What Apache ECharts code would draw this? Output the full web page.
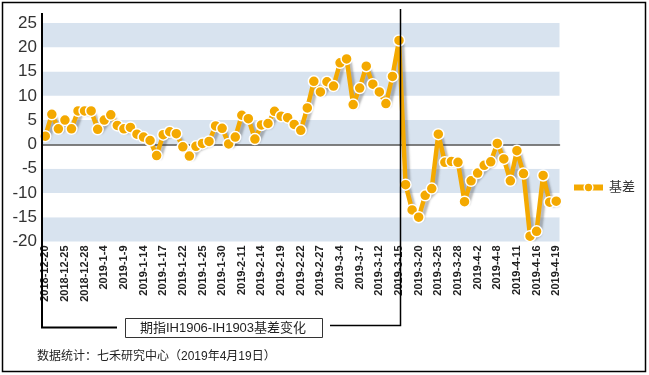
<!DOCTYPE html>
<html>
<head>
<meta charset="utf-8">
<script src="https://cdn.jsdelivr.net/npm/echarts@6/dist/echarts.min.js"></script>
<style>
  html, body { margin: 0; padding: 0; background: #fff; }
  #chart { width: 649px; height: 375px; }
</style>
</head>
<body>
<div id="chart"></div>
<script>
const dates = [
  '2018-12-20','2018-12-21','2018-12-24','2018-12-25','2018-12-26','2018-12-27','2018-12-28',
  '2019-1-2','2019-1-3','2019-1-4','2019-1-7','2019-1-8','2019-1-9','2019-1-10','2019-1-11',
  '2019-1-14','2019-1-15','2019-1-16','2019-1-17','2019-1-18','2019-1-21','2019-1-22','2019-1-23',
  '2019-1-24','2019-1-25','2019-1-28','2019-1-29','2019-1-30','2019-1-31','2019-2-1',
  '2019-2-11','2019-2-12','2019-2-13','2019-2-14','2019-2-15','2019-2-18','2019-2-19','2019-2-20',
  '2019-2-21','2019-2-22','2019-2-25','2019-2-26','2019-2-27','2019-2-28','2019-3-1',
  '2019-3-4','2019-3-5','2019-3-6','2019-3-7','2019-3-8','2019-3-11','2019-3-12','2019-3-13',
  '2019-3-14','2019-3-15','2019-3-18','2019-3-19','2019-3-20','2019-3-21','2019-3-22',
  '2019-3-25','2019-3-26','2019-3-27','2019-3-28','2019-3-29','2019-4-1','2019-4-2','2019-4-3',
  '2019-4-4','2019-4-8','2019-4-9','2019-4-10','2019-4-11','2019-4-12','2019-4-15','2019-4-16',
  '2019-4-17','2019-4-18','2019-4-19'
];
const basis = [
  1.7, 6.2, 3.2, 5.0, 3.2, 6.9, 6.9,
  6.9, 3.1, 5.0, 6.1, 3.9, 3.2, 3.5, 2.1,
  1.5, 0.8, -2.3, 2.0, 2.6, 2.2, -0.5, -2.4,
  -0.4, 0.2, 0.6, 3.8, 3.3, 0.1, 1.5,
  6.0, 5.3, 1.1, 4.0, 4.3, 6.8, 5.8, 5.5,
  4.1, 2.9, 7.5, 13.0, 10.8, 12.9, 12.0,
  16.8, 17.6, 8.2, 11.6, 16.1, 12.4, 10.8, 8.4,
  14.0, 21.4, -8.3, -13.5, -15.0, -10.5, -9.1,
  2.1, -3.7, -3.5, -3.7, -11.8, -7.5, -5.9, -4.3,
  -3.6, 0.2, -3.0, -7.5, -1.3, -6.0, -18.9, -17.9,
  -6.4, -11.9, -11.7
];
const seriesName = '基差';
const yTicks = { min: -20, max: 25, interval: 5 };
const titleText = '期指IH1906-IH1903基差变化';
const footerText = '数据统计：七禾研究中心（2019年4月19日）';

const FONT = '"Liberation Sans", Arial, "Noto Sans CJK SC", sans-serif';
const ORANGE = '#F4A900';

const chart = echarts.init(document.getElementById('chart'), null, { renderer: 'canvas' });
chart.setOption({
  animation: false,
  backgroundColor: '#fff',
  textStyle: { fontFamily: FONT },
  grid: { left: 42, right: 89.5, top: 23, bottom: 133.5, containLabel: false },
  legend: {
    data: [seriesName],
    left: 571, top: 181, padding: 0,
    itemWidth: 29, itemHeight: 11,
    lineStyle: { width: 6, color: ORANGE },
    itemStyle: { color: ORANGE, borderColor: '#fff', borderWidth: 1.5 },
    textStyle: { fontSize: 13, color: '#333', fontFamily: FONT, padding: [0, 0, 0, 1] }
  },
  xAxis: [
    {
      type: 'category', data: dates, boundaryGap: true,
      axisLine: { onZero: true, lineStyle: { color: '#555', width: 1.5 } },
      axisTick: { show: false },
      axisLabel: { show: false },
      splitLine: { show: false }
    },
    {
      type: 'category', data: dates, boundaryGap: true, position: 'bottom',
      axisLine: { show: false, onZero: false },
      axisTick: { show: false },
      axisLabel: {
        interval: 2, rotate: 90, fontSize: 11, fontWeight: 'bold',
        color: '#222', margin: 4, fontFamily: FONT
      },
      splitLine: { show: false }
    }
  ],
  yAxis: {
    type: 'value', min: yTicks.min, max: yTicks.max, interval: yTicks.interval,
    axisLine: { show: false },
    axisTick: { show: false },
    axisLabel: { fontSize: 17, color: '#333', margin: 5, fontFamily: FONT },
    splitLine: { show: false },
    splitArea: { show: true, areaStyle: { color: ['#D8E3EF', '#FFFFFF'] } }
  },
  series: [{
    name: seriesName,
    type: 'line',
    xAxisIndex: 0,
    data: basis,
    symbol: 'circle',
    symbolSize: 11,
    showAllSymbol: true,
    z: 3,
    lineStyle: {
      color: ORANGE, width: 4.5,
      shadowColor: 'rgba(60,60,60,0.35)', shadowBlur: 2, shadowOffsetX: 3, shadowOffsetY: 3
    },
    itemStyle: { color: ORANGE, borderColor: '#fff', borderWidth: 1.5 }
  }],
  graphic: [
    { type: 'rect', shape: { x: 2.5, y: 2.5, width: 643, height: 369 },
      style: { fill: 'none', stroke: '#000', lineWidth: 1.5 }, z: 10, silent: true },
    { type: 'polyline', shape: { points: [[42, 13], [42, 327.5], [117, 327.5]] },
      style: { fill: 'none', stroke: '#000', lineWidth: 2 }, z: 10, silent: true },
    { type: 'polyline', shape: { points: [[330, 325.5], [400.5, 325.5], [400.5, 9]] },
      style: { fill: 'none', stroke: '#000', lineWidth: 1.5 }, z: 10, silent: true },
    { type: 'rect', shape: { x: 125.5, y: 318.5, width: 197, height: 19 },
      style: { fill: '#fff', stroke: '#333', lineWidth: 1 }, z: 10, silent: true },
    { type: 'text', x: 223, y: 328.5, z: 11, silent: true,
      style: { text: titleText, font: '13px ' + FONT, fill: '#222', align: 'center', verticalAlign: 'middle' } },
    { type: 'text', x: 37, y: 357, z: 11, silent: true,
      style: { text: footerText, font: '12px ' + FONT, fill: '#222', align: 'left', verticalAlign: 'middle' } }
  ]
});
</script>
</body>
</html>
